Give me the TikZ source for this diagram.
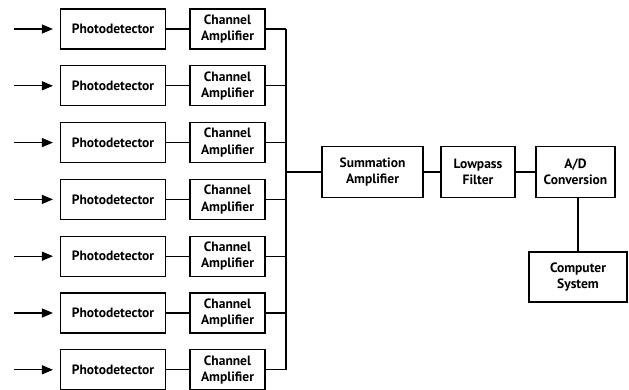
\documentclass[tikz,border=0pt]{standalone}
\usepackage{fontspec}
\setmainfont{PT Sans}
\usetikzlibrary{arrows.meta}
\begin{document}
\begin{tikzpicture}[x=1pt,y=-1pt,
  line width=1.1pt,
  blk/.style={draw, rectangle, inner sep=0pt, align=center,
    font=\fontsize{13.5}{16.5}\selectfont\bfseries},
  pd/.style={blk, minimum width=105pt, minimum height=40pt},
  ca/.style={blk, minimum width=75pt, minimum height=40pt},
  inarrow/.style={-{Triangle[length=11pt,width=9pt]}}]
\useasboundingbox (0,0) rectangle (629,390);
% photodetector chains
\foreach \i in {1,...,7} {
  \pgfmathsetmacro{\yc}{29+56.8*(\i-1)}
  \node[pd] (pd\i) at (113,\yc) {Photodetector};
  \node[ca] (ca\i) at (227.5,\yc) {Channel\\Amplifier};
  \coordinate (src\i) at (14,\yc);
  \coordinate (bus\i) at (286,\yc);
  \draw[inarrow] (src\i) -- ([xshift=-7pt]pd\i.west);
  \draw (pd\i) -- (ca\i);
  \draw (ca\i) -- (bus\i);
}
\draw (bus1) -- (bus7);
% processing chain
\node[blk, minimum width=101pt, minimum height=51pt] (sum) at (372.5,172) {Summation\\Amplifier};
\node[blk, minimum width=74pt, minimum height=51pt] (lp) at (478,172) {Lowpass\\Filter};
\node[blk, minimum width=79pt, minimum height=51pt] (ad) at (575.5,172) {A/D\\Conversion};
\node[blk, minimum width=98pt, minimum height=50pt] (cs) at (578,277) {Computer\\System};
\coordinate (busj) at (286,172);
\draw (busj) -- (sum);
\draw (sum) -- (lp);
\draw (lp) -- (ad);
\draw (ad.south -| cs.north) -- (cs.north);
\end{tikzpicture}
\end{document}
